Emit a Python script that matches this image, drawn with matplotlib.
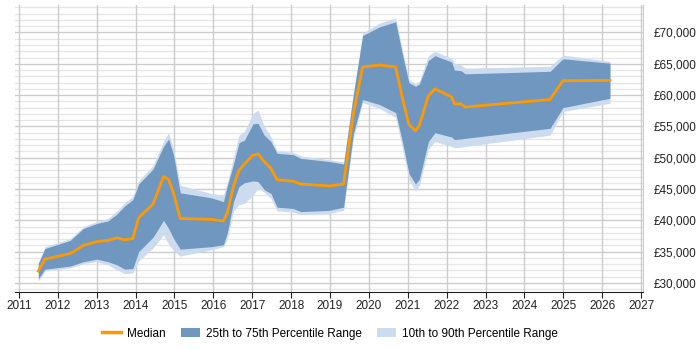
import numpy as np
import matplotlib
matplotlib.use('Agg')
import matplotlib.pyplot as plt
from matplotlib.ticker import FuncFormatter, MultipleLocator, NullLocator
from matplotlib.patches import Patch
from matplotlib.lines import Line2D

plt.rcParams['font.family'] = ['Liberation Sans', 'DejaVu Sans']
plt.rcParams['xtick.minor.visible'] = False
plt.rcParams['ytick.minor.visible'] = False

# sample dates (decimal years)
dates = [2011.50, 2011.67, 2012.32, 2012.66, 2013.00, 2013.29, 2013.52, 2013.72, 2013.93,
         2014.08, 2014.45, 2014.72, 2014.85, 2014.98, 2015.15, 2015.95, 2016.26, 2016.36,
         2016.52, 2016.66, 2016.80, 2017.02, 2017.15, 2017.31, 2017.48, 2017.64, 2018.05,
         2018.25, 2018.98, 2019.35, 2019.60, 2019.84, 2020.27, 2020.69, 2020.86, 2021.03,
         2021.20, 2021.30, 2021.53, 2021.70, 2022.13, 2022.20, 2022.37, 2022.48, 2024.66,
         2024.99, 2026.20]

p50 = [31900, 33800, 34700, 36000, 36600, 36800, 37200, 36900, 37100,
       40400, 42600, 47000, 46500, 44300, 40300, 40150, 39900, 41200,
       45500, 48000, 49000, 50400, 50600, 49400, 48300, 46500, 46250,
       45800, 45500, 45800, 57000, 64500, 64800, 64500, 59600, 55300,
       54300, 55200, 59900, 61000, 59700, 58600, 58600, 58100, 59300,
       62300, 62350]

p75 = [33100, 35500, 36800, 38700, 39500, 39900, 41000, 42300, 43300,
       45800, 48200, 51800, 53000, 50400, 44400, 43600, 43000, 45500,
       49000, 52400, 52800, 55400, 55500, 53600, 52600, 50700, 50500,
       49900, 49400, 49000, 60000, 69500, 70900, 71700, 66600, 62000,
       61400, 61800, 65500, 66300, 65300, 64000, 63900, 63400, 63800,
       65800, 65100]

p25 = [30700, 32200, 32700, 33400, 33800, 33400, 32900, 32200, 32300,
       35000, 37300, 40000, 38700, 37100, 35400, 35800, 36100, 38000,
       43000, 45400, 46000, 46300, 46200, 44900, 44300, 42100, 41900,
       41400, 41600, 42100, 53800, 59300, 58500, 57200, 52600, 47500,
       45800, 46600, 52600, 54000, 53300, 52900, 53000, 53100, 54700,
       58000, 59500]

p90 = [33300, 35800, 37100, 39000, 39800, 40300, 41500, 42800, 43800,
       46300, 48800, 52600, 54000, 51300, 45600, 44300, 44000, 46000,
       50000, 53600, 54200, 57100, 57600, 55000, 53400, 51100, 50900,
       50300, 49700, 49300, 60400, 69900, 71500, 72300, 67300, 62500,
       61800, 62300, 66300, 67000, 65900, 65100, 64800, 64300, 64600,
       66400, 65400]

p10 = [30300, 31900, 32400, 33100, 33400, 32900, 32100, 31500, 31600,
       33500, 35600, 37700, 36200, 35200, 34300, 35300, 35800, 37000,
       41500, 42500, 42700, 44000, 45100, 44500, 43500, 41500, 41300,
       40900, 41100, 41600, 53000, 58800, 57900, 56400, 51600, 46500,
       44700, 45600, 51400, 52600, 51800, 51600, 51700, 51800, 53600,
       57400, 58700]

years = list(range(2011, 2028))

fig = plt.figure(figsize=(7, 3.5), dpi=100)
ax = fig.add_axes([0.0214, 0.1657, 0.8972, 0.82])

dark = '#7097c0'
light = '#ccdcee'
orange = '#ff9900'

ax.fill_between(dates, p10, p90, color=light, lw=0, zorder=2)
ax.fill_between(dates, p25, p75, color=dark, lw=0, zorder=3)
ax.plot(dates, p50, color=orange, lw=2, zorder=4)

ax.set_xlim(2010.9, 2027.05)
ax.set_ylim(28560, 74390)
ax.set_xticks(years)
ax.set_xticklabels([str(y) for y in years])
ax.xaxis.set_minor_locator(NullLocator())
ax.yaxis.set_minor_locator(NullLocator())
ax.yaxis.set_major_locator(MultipleLocator(5000))
ax.yaxis.set_major_formatter(FuncFormatter(lambda v, p: '£{:,.0f}'.format(v)))
ax.yaxis.tick_right()

ax.grid(True, which='major', color='#cccccc', lw=1, zorder=0)
# light minor gridlines every 1000
for v in range(29000, 74001, 1000):
    if v % 5000:
        ax.axhline(v, color='#e6e6e6', lw=1, zorder=0)
ax.set_axisbelow(True)

for s in ['top', 'left']:
    ax.spines[s].set_visible(False)
ax.spines['right'].set_color('#cccccc')
ax.spines['bottom'].set_color('#222222')

ax.tick_params(axis='x', which='major', length=4, color='#222222', labelsize=8.5, pad=2,
               labelcolor='#222222')
ax.tick_params(axis='y', which='major', length=0, labelsize=8.5, pad=8, labelcolor='#222222')

handles = [Line2D([0], [0], color=orange, lw=2.5),
           Patch(facecolor=dark, edgecolor='none'),
           Patch(facecolor=light, edgecolor='none')]
labels = ['Median', '25th to 75th Percentile Range', '10th to 90th Percentile Range']
fig.legend(handles, labels, loc='center', bbox_to_anchor=(0.471, 0.047), ncol=3,
           frameon=False, fontsize=8.5, handlelength=1.6, handletextpad=0.5, columnspacing=1.3)

fig.savefig('out.png', dpi=100)
